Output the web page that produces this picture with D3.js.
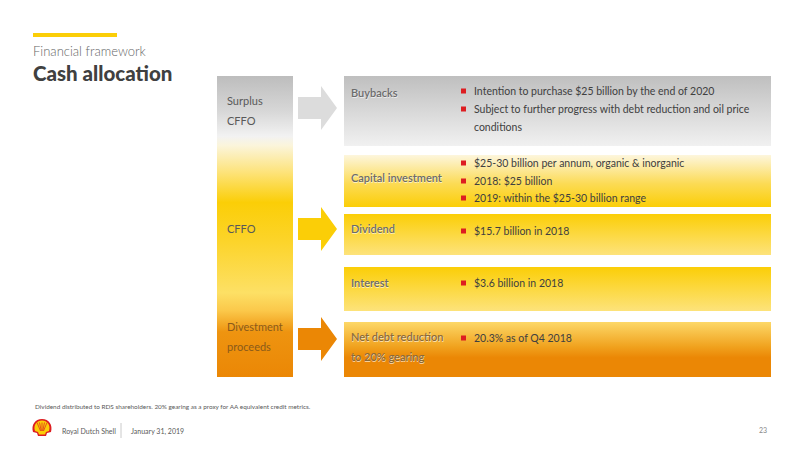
<!DOCTYPE html>
<html>
<head>
<meta charset="utf-8">
<script src="https://cdn.jsdelivr.net/npm/d3@7"></script>
<style>
  body { margin: 0; background: #fff; }
  svg { font-family: "Lato", "Open Sans", sans-serif; }
</style>
</head>
<body>
<script>
// sources of cash (left column)
var sources = ["Surplus|CFFO", "CFFO", "Divestment|proceeds"];
var sourceKinds = ["grey", "yellow", "orange"];

// uses of cash (right boxes)
var uses = ["Buybacks", "Capital investment", "Dividend", "Interest", "Net debt reduction|to 20% gearing"];
var useKinds = ["grey", "capex", "yellow", "yellow", "orange"];
var useBullets = [
    ["Intention to purchase $25 billion by the end of 2020", "Subject to further progress with debt reduction and oil price", "conditions"],
    ["$25-30 billion per annum, organic & inorganic", "2018: $25 billion", "2019: within the $25-30 billion range"],
    ["$15.7 billion in 2018"],
    ["$3.6 billion in 2018"],
    ["20.3% as of Q4 2018"]
];
// lines that are wrapped continuation (no bullet)
var continuation = [[false, false, true], [false, false, false], [false], [false], [false]];

var footnote = "Dividend distributed to RDS shareholders. 20% gearing as a proxy for AA equivalent credit metrics.";

// slide layout (in slide rows, mapped through a scale)
var useTop = [0, 79, 138, 191, 246];
var useBottom = [70, 131, 179, 235, 301];
var sourceRow = [25, 153, 251];
var useLabelRow = [17, 102, 153, 207, 261];
var bulletRow = [[15, 33, 51], [87, 105, 122], [155], [207], [262]];
var baseShift = 4;

var svg = d3.select("body").append("svg")
    .attr("width", 800)
    .attr("height", 450);

var y = d3.scaleLinear().domain([0, 301]).range([76, 377]);
var x = d3.scaleLinear().domain([0, 100]).range([217, 771]);

var defs = svg.append("defs");

function grad(id, stops) {
    let g = defs.append("linearGradient").attr("id", id)
        .attr("x1", 0).attr("y1", 0).attr("x2", 0).attr("y2", 1);
    g.selectAll("stop").data(stops).enter().append("stop")
        .attr("offset", function(d) { return d[0]; })
        .attr("stop-color", function(d) { return d[1]; });
}

grad("colGrad", [[0, "#bdbdbd"], [0.12, "#d8d8d8"], [0.2, "#f2f2f2"], [0.23, "#fbf5dc"], [0.32, "#fde37a"], [0.42, "#fbce07"], [0.55, "#fcd42a"], [0.72, "#fde065"], [0.78, "#fbc84a"], [0.85, "#ee9410"], [1, "#eb8705"]]);
grad("grey", [[0, "#bfbfbf"], [1, "#f1f1f1"]]);
grad("capex", [[0, "#fdf6dd"], [0.55, "#fcdb55"], [1, "#fbce07"]]);
grad("yellow", [[0, "#fbce07"], [1, "#fde37b"]]);
grad("orange", [[0, "#fdd868"], [0.45, "#f0a21e"], [0.65, "#eb8705"], [1, "#eb8705"]]);

// header
svg.append("rect").attr("x", 33).attr("y", 33).attr("width", 84).attr("height", 4).attr("fill", "#fbce07");
svg.append("text").text("Financial framework")
    .attr("x", 33).attr("y", 56)
    .attr("font-size", 13).attr("font-weight", 300).attr("fill", "#666");
svg.append("text").text("Cash allocation")
    .attr("x", 33).attr("y", 81)
    .attr("font-size", 20.5).attr("font-weight", 900).attr("fill", "#404040");

// left column
svg.append("rect")
    .attr("x", x(0)).attr("y", y(0))
    .attr("width", 76).attr("height", y(301) - y(0))
    .attr("fill", "url(#colGrad)");

sources.forEach(function(s, i) {
    let t = svg.append("text")
        .attr("x", x(0) + 10).attr("y", y(sourceRow[i]) + baseShift)
        .attr("font-size", 11).attr("fill", i == 2 ? "#8a5a1a" : "#595959");
    s.split("|").forEach(function(line, j) {
        t.append("tspan").attr("x", x(0) + 10).attr("dy", j == 0 ? 0 : 20).text(line);
    });
});

// arrows
var arrowColor = { grey: "#dcdcdc", yellow: "#fbce07", orange: "#eb8705" };
var arrowRow = [32, 153, 263];
arrowRow.forEach(function(r, i) {
    let cy = y(r);
    let x0 = 298, xh = 321, xt = 337;
    let pts = [[x0, cy - 11], [xh, cy - 11], [xh, cy - 22], [xt, cy], [xh, cy + 22], [xh, cy + 11], [x0, cy + 11]];
    svg.append("path")
        .attr("d", d3.line()(pts) + "Z")
        .attr("fill", arrowColor[sourceKinds[i]]);
});

// use boxes
var boxes = svg.selectAll(".usebox").data(uses).enter().append("g").attr("class", "usebox");

boxes.append("rect")
    .attr("x", 344)
    .attr("y", function(d, i) { return y(useTop[i]); })
    .attr("width", x(100) - 344)
    .attr("height", function(d, i) { return y(useBottom[i]) - y(useTop[i]); })
    .attr("fill", function(d, i) { return "url(#" + useKinds[i] + ")"; });

boxes.each(function(d, i) {
    let g = d3.select(this);
    let lines = d.split("|");
    lines.forEach(function(line, j) {
        // light emboss
        g.append("text").text(line)
            .attr("x", 351.6).attr("y", y(useLabelRow[i]) + baseShift + j * 20 + 0.6)
            .attr("font-size", 11).attr("font-weight", 600)
            .attr("fill", "#ffffff").attr("opacity", 0.6);
        g.append("text").text(line)
            .attr("x", 351).attr("y", y(useLabelRow[i]) + baseShift + j * 20)
            .attr("font-size", 11).attr("font-weight", 600)
            .attr("fill", i == 4 ? "#8a6a3a" : "#6b6b6b");
    });

    useBullets[i].forEach(function(b, j) {
        let cy = y(bulletRow[i][j]);
        if (!continuation[i][j]) {
            g.append("rect")
                .attr("x", 461).attr("y", cy - 2.5)
                .attr("width", 5).attr("height", 5)
                .attr("fill", "#dd1d21");
        }
        g.append("text").text(b)
            .attr("x", 474).attr("y", cy + baseShift)
            .attr("font-size", 10.5).attr("fill", "#404040");
    });
});

// footnote
svg.append("text").text(footnote)
    .attr("x", 35).attr("y", 409)
    .attr("font-size", 6.4).attr("fill", "#595959");

// footer
var logo = svg.append("g").attr("transform", "translate(42,428)");
logo.append("path")
    .attr("d", "M-9,4 C-11,-3 -7,-9 0,-9 C7,-9 11,-3 9,4 L5,5 L4,8 L-4,8 L-5,5 Z")
    .attr("fill", "#dd1d21");
logo.append("path")
    .attr("d", "M-7,3 C-9,-3 -5,-7.5 0,-7.5 C5,-7.5 9,-3 7,3 L4,4 L3,6.5 L-3,6.5 L-4,4 Z")
    .attr("fill", "#fbce07");
[-5, -2.5, 0, 2.5, 5].forEach(function(dx) {
    logo.append("line")
        .attr("x1", dx * 0.3).attr("y1", 3)
        .attr("x2", dx).attr("y2", -5.5)
        .attr("stroke", "#dd1d21").attr("stroke-width", 0.7);
});

svg.append("text").text("Royal Dutch Shell")
    .attr("x", 62).attr("y", 434).attr("font-size", 7).attr("fill", "#595959");
svg.append("line")
    .attr("x1", 121).attr("x2", 121).attr("y1", 423).attr("y2", 438)
    .attr("stroke", "#bdbdbd").attr("stroke-width", 0.8);
svg.append("text").text("January 31, 2019")
    .attr("x", 131).attr("y", 434).attr("font-size", 7).attr("fill", "#595959");
svg.append("text").text("23")
    .attr("x", 767).attr("y", 433).attr("font-size", 7).attr("fill", "#888")
    .attr("text-anchor", "end");
</script>
</body>
</html>
